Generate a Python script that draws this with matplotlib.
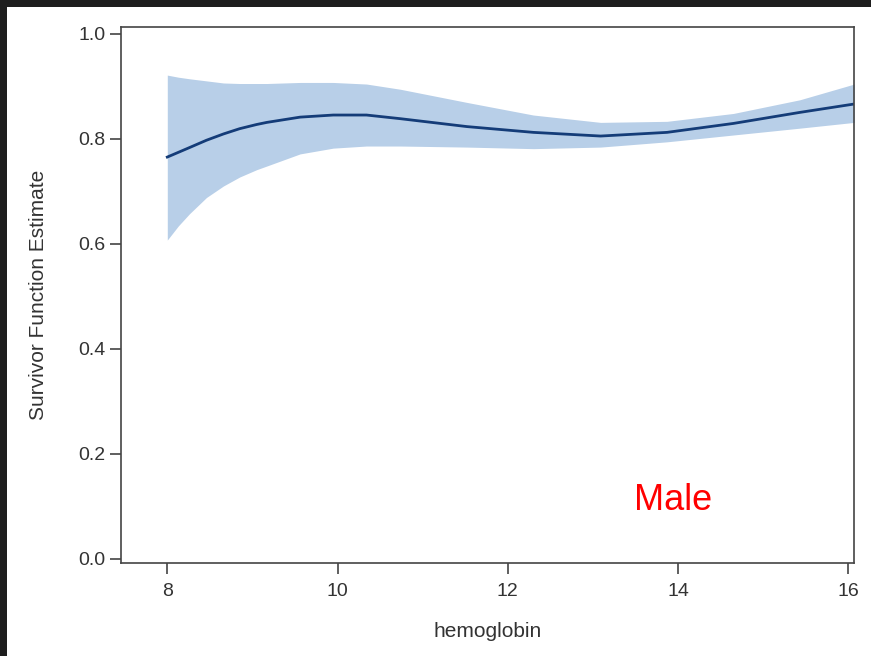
import matplotlib
matplotlib.use('Agg')
import matplotlib.pyplot as plt
from matplotlib.patches import Rectangle

plt.rcParams['font.family'] = ['Liberation Sans', 'DejaVu Sans']

# survivor function estimate vs hemoglobin
hgb = [8.0, 8.13, 8.26, 8.46, 8.66, 8.85, 9.05, 9.17, 9.56, 9.95, 10.34, 10.74,
       11.52, 12.30, 13.09, 13.87, 14.65, 15.43, 16.07]
surv = [0.765, 0.774, 0.783, 0.797, 0.809, 0.819, 0.827, 0.831, 0.841, 0.845,
        0.845, 0.838, 0.823, 0.812, 0.805, 0.812, 0.829, 0.850, 0.866]
upper = [0.921, 0.917, 0.914, 0.910, 0.906, 0.905, 0.905, 0.905, 0.907, 0.907,
         0.904, 0.894, 0.869, 0.845, 0.831, 0.833, 0.848, 0.874, 0.904]
lower = [0.607, 0.634, 0.657, 0.688, 0.710, 0.727, 0.741, 0.748, 0.771, 0.782,
         0.786, 0.786, 0.784, 0.781, 0.784, 0.794, 0.807, 0.820, 0.831]

xticks = [8, 10, 12, 14, 16]
yticks = [0.0, 0.2, 0.4, 0.6, 0.8, 1.0]

fig = plt.figure(figsize=(8.71, 6.56), dpi=100, facecolor='#1e1e1e')
# white window area inside the dark screenshot border
bg = Rectangle((7 / 871, 0), 1 - 7 / 871, 1 - 7 / 656,
               transform=fig.transFigure, facecolor='white',
               edgecolor='none', zorder=-10)
fig.add_artist(bg)

ax = fig.add_axes([0.1389, 0.1413, 0.8419, 0.8171])
ax.set_zorder(5)
ax.fill_between(hgb, lower, upper, color='#b8cfe8', linewidth=0)
ax.plot(hgb, surv, color='#143c78', linewidth=2.0)

ax.set_xlim(7.456, 16.07)
ax.set_ylim(-0.0082, 1.012)
ax.set_xticks(xticks)
ax.set_yticks(yticks)
ax.set_xticklabels([str(t) for t in xticks])
ax.set_yticklabels(['%.1f' % t for t in yticks])

for s in ax.spines.values():
    s.set_color('#444444')
    s.set_linewidth(1.2)
ax.tick_params(length=8, width=1.2, color='#444444', labelsize=14,
               labelcolor='#333333', pad=3)
ax.tick_params(axis='x', pad=6)

ax.set_xlabel('hemoglobin', fontsize=15, color='#333333', labelpad=16)
ax.set_ylabel('Survivor Function Estimate', fontsize=15, color='#333333',
              labelpad=22)

ax.text(13.94, 0.112, 'Male', color='red', fontsize=26, ha='center', va='center')

fig.savefig('out.png', dpi=100, facecolor=fig.get_facecolor())
